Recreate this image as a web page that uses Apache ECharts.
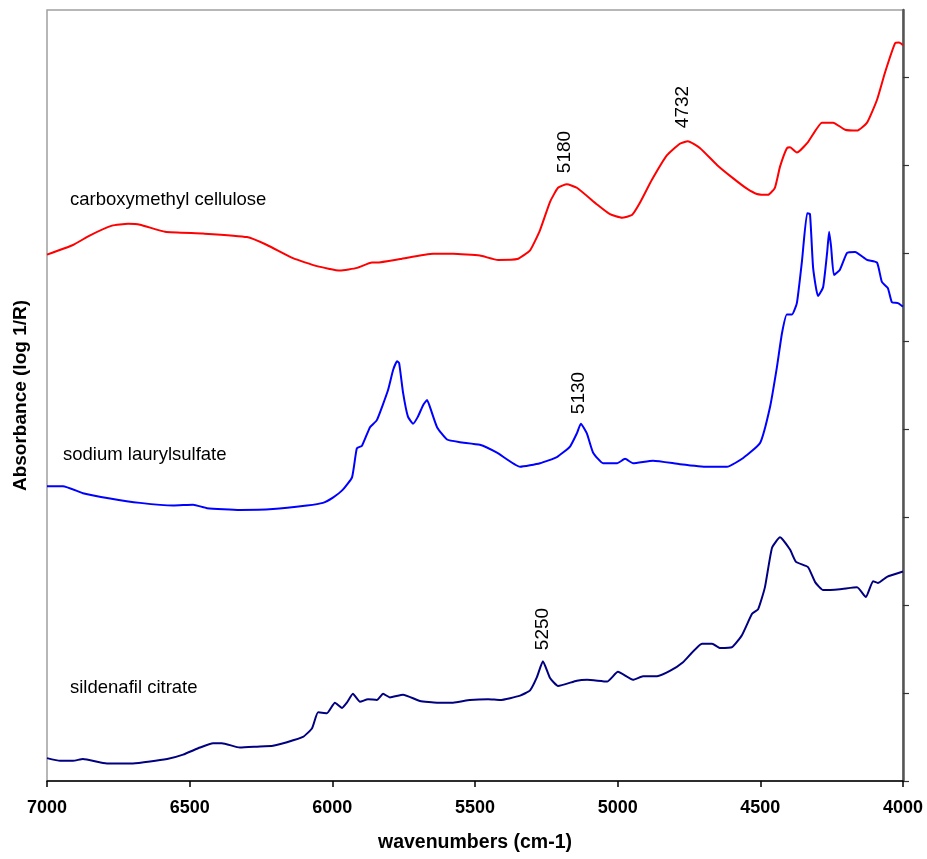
<!DOCTYPE html>
<html>
<head>
<meta charset="utf-8">
<script src="https://cdn.jsdelivr.net/npm/echarts@6/dist/echarts.min.js"></script>
<style>
html,body{margin:0;padding:0;background:#fff;}
#chart{width:927px;height:859px;}
</style>
</head>
<body>
<div id="chart"></div>
<script>
// ---- data (wavenumber cm-1, absorbance in arbitrary offset units) ----
var xTicks = [7000, 6500, 6000, 5500, 5000, 4500, 4000];

var cmcWn  = [7000,6909,6849,6772,6716,6674,6586,6453,6299,6229,6138,6054,5973,5913,5861,5844,5762,5647,5577,5483,5419,5352,5307,5272,5237,5209,5178,5143,5072,5027,4985,4950,4922,4880,4827,4782,4754,4711,4652,4596,4547,4512,4473,4449,4431,4407,4396,4372,4333,4284,4245,4203,4161,4126,4091,4063,4028,4014,4000];
var cmcAbs = [5.98,6.09,6.20,6.31,6.33,6.32,6.24,6.22,6.18,6.09,5.94,5.85,5.80,5.83,5.89,5.89,5.93,5.99,5.99,5.97,5.92,5.93,6.03,6.26,6.58,6.74,6.78,6.74,6.55,6.44,6.40,6.43,6.57,6.83,7.11,7.24,7.27,7.19,7.00,6.85,6.73,6.67,6.66,6.74,6.98,7.19,7.20,7.14,7.26,7.48,7.48,7.40,7.39,7.48,7.74,8.05,8.38,8.39,8.36];

var slsWn  = [7000,6944,6874,6779,6674,6558,6488,6439,6324,6208,6089,6033,5998,5963,5931,5914,5896,5868,5844,5805,5787,5773,5766,5752,5735,5717,5700,5682,5668,5658,5633,5598,5553,5483,5423,5342,5272,5213,5167,5143,5129,5108,5086,5051,5002,4974,4946,4876,4782,4687,4617,4560,4501,4466,4442,4424,4407,4389,4372,4354,4336,4326,4315,4298,4280,4266,4259,4252,4242,4221,4196,4168,4126,4091,4074,4053,4039,4018,4000];
var slsAbs = [3.35,3.35,3.27,3.21,3.16,3.13,3.14,3.10,3.08,3.09,3.13,3.16,3.22,3.31,3.45,3.78,3.81,4.02,4.10,4.44,4.67,4.77,4.75,4.41,4.14,4.06,4.14,4.27,4.33,4.25,4.02,3.88,3.85,3.82,3.73,3.57,3.61,3.68,3.80,3.95,4.06,3.95,3.73,3.61,3.61,3.66,3.61,3.64,3.60,3.57,3.57,3.67,3.84,4.25,4.70,5.09,5.30,5.30,5.43,5.91,6.45,6.44,5.83,5.51,5.61,6.00,6.24,6.07,5.75,5.81,6.00,6.01,5.92,5.89,5.67,5.60,5.44,5.43,5.39];

var silWn  = [7000,6954,6909,6874,6790,6699,6579,6523,6464,6418,6387,6324,6264,6208,6159,6103,6071,6050,6019,5991,5966,5949,5928,5903,5875,5844,5822,5798,5752,5693,5633,5577,5518,5454,5412,5342,5307,5283,5262,5237,5209,5143,5107,5037,4999,4946,4911,4862,4817,4771,4704,4669,4641,4599,4564,4529,4508,4484,4459,4431,4396,4375,4333,4308,4280,4221,4161,4130,4105,4088,4056,4000];
var silAbs = [0.26,0.23,0.23,0.25,0.20,0.20,0.25,0.30,0.38,0.43,0.43,0.38,0.39,0.40,0.44,0.50,0.60,0.78,0.77,0.89,0.83,0.89,0.99,0.90,0.93,0.92,0.99,0.95,0.98,0.91,0.89,0.89,0.92,0.93,0.92,0.97,1.03,1.18,1.36,1.17,1.08,1.14,1.15,1.13,1.24,1.15,1.19,1.19,1.25,1.35,1.56,1.56,1.51,1.52,1.66,1.90,1.95,2.20,2.65,2.77,2.63,2.49,2.43,2.26,2.17,2.18,2.20,2.09,2.27,2.25,2.32,2.38];

var seriesNames = ['carboxymethyl cellulose', 'sodium laurylsulfate', 'sildenafil citrate'];
var peakLabels = ['5180', '4732', '5130', '5250'];
var yTickValues = [0, 1, 2, 3, 4, 5, 6, 7, 8];

function zip(a, b) { return a.map(function (v, i) { return [v, b[i]]; }); }

var chart = echarts.init(document.getElementById('chart'), null, {renderer: 'canvas'});
var axisFont = "'Liberation Sans', Arial, sans-serif";
var textFont = "'Liberation Sans', Arial, sans-serif";

function lineSeries(name, data, color) {
  return {
    name: name, type: 'line', data: data, symbol: 'none', smooth: 0.15,
    lineStyle: {color: color, width: 2}, animation: false, silent: true,
    xAxisIndex: 0, yAxisIndex: 0
  };
}

var option = {
  backgroundColor: '#ffffff',
  animation: false,
  grid: {left: 47, right: 24, top: 10, bottom: 78, show: true, borderColor: '#a0a0a0', borderWidth: 1.5, backgroundColor: 'transparent'},
  xAxis: {
    type: 'value', min: 4000, max: 7000, interval: 500, inverse: true, position: 'bottom',
    axisLine: {show: true, onZero: false, lineStyle: {color: '#000', width: 1.5}},
    axisTick: {show: true, inside: false, length: 6, lineStyle: {color: '#000', width: 1.5}},
    axisLabel: {
      show: true, margin: 18, color: '#000', fontSize: 18, fontWeight: 'bold', fontFamily: axisFont,
      formatter: function (v) { return xTicks.indexOf(v) >= 0 ? String(v) : ''; }
    },
    splitLine: {show: false},
    name: 'wavenumbers (cm-1)', nameLocation: 'middle', nameGap: 52,
    nameTextStyle: {color: '#000', fontSize: 19.5, fontWeight: 'bold', fontFamily: axisFont}
  },
  yAxis: [{
    type: 'value', min: 0, max: 8.76, interval: 1, position: 'right',
    axisLine: {show: true, lineStyle: {color: '#555', width: 2.5}},
    axisTick: {show: true, inside: false, length: 6, customValues: yTickValues, lineStyle: {color: '#333', width: 1.2}},
    axisLabel: {show: false},
    splitLine: {show: false}
  }, {
    type: 'value', min: 0, max: 8.76, position: 'left',
    axisLine: {show: false}, axisTick: {show: false}, axisLabel: {show: false}, splitLine: {show: false},
    name: 'Absorbance (log 1/R)', nameLocation: 'middle', nameGap: 17, nameRotate: 90,
    nameTextStyle: {color: '#000', fontSize: 19, fontWeight: 'bold', fontFamily: axisFont}
  }],
  series: [
    lineSeries(seriesNames[0], zip(cmcWn, cmcAbs), '#ff0000'),
    lineSeries(seriesNames[1], zip(slsWn, slsAbs), '#0000ff'),
    lineSeries(seriesNames[2], zip(silWn, silAbs), '#000080')
  ],
  graphic: [
    {type: 'text', left: 70, top: 190, style: {text: seriesNames[0], font: "18.5px " + textFont, fill: '#000'}},
    {type: 'text', left: 63, top: 445, style: {text: seriesNames[1], font: "18.5px " + textFont, fill: '#000'}},
    {type: 'text', left: 70, top: 678, style: {text: seriesNames[2], font: "18.5px " + textFont, fill: '#000'}},
    {type: 'text', x: 565, y: 152, rotation: Math.PI / 2, style: {text: peakLabels[0], font: "19px " + textFont, fill: '#000', align: 'center', verticalAlign: 'middle'}},
    {type: 'text', x: 683, y: 107, rotation: Math.PI / 2, style: {text: peakLabels[1], font: "19px " + textFont, fill: '#000', align: 'center', verticalAlign: 'middle'}},
    {type: 'text', x: 579, y: 393, rotation: Math.PI / 2, style: {text: peakLabels[2], font: "19px " + textFont, fill: '#000', align: 'center', verticalAlign: 'middle'}},
    {type: 'text', x: 543, y: 629, rotation: Math.PI / 2, style: {text: peakLabels[3], font: "19px " + textFont, fill: '#000', align: 'center', verticalAlign: 'middle'}}
  ]
};
chart.setOption(option);
</script>
</body>
</html>
